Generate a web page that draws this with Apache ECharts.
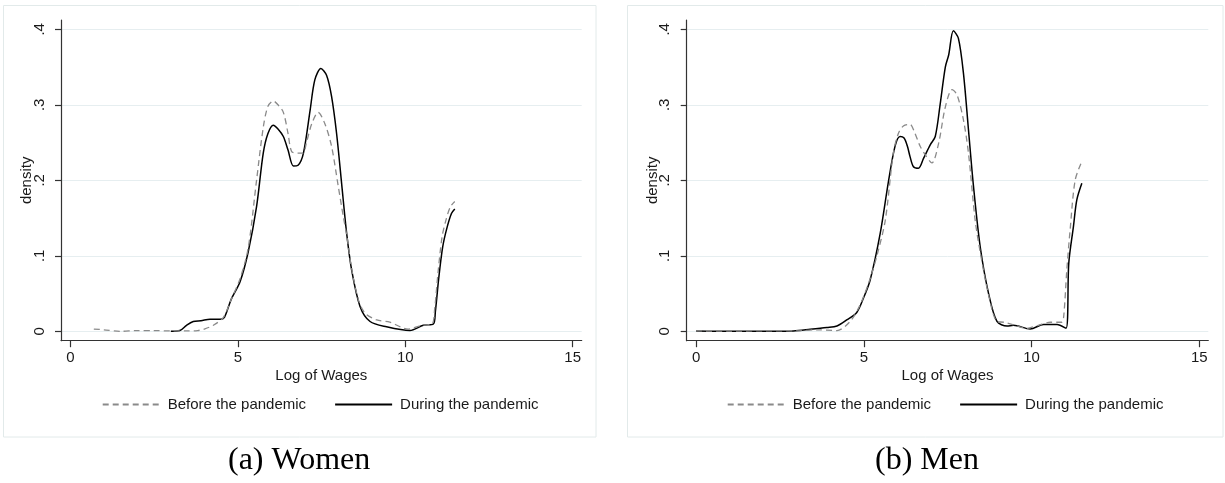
<!DOCTYPE html>
<html>
<head>
<meta charset="utf-8">
<script src="https://cdn.jsdelivr.net/npm/echarts@6/dist/echarts.min.js"></script>
<style>
html, body { margin: 0; padding: 0; background: #fff; }
#chart { width: 1225px; height: 483px; }
</style>
</head>
<body>
<div id="chart"></div>
<script>
// tick labels and names
var xTicks = [0, 5, 10, 15];
var seriesNames = ['Before the pandemic', 'During the pandemic'];
var captions = ['(a) Women', '(b) Men'];

// [log wage, density]
var womenBefore = [[0.7,0.003],[1.0,0.002],[1.5,0.0],[2.0,0.001],[2.5,0.001],[3.0,0.0005],[3.5,0.0005],[3.8,0.001],[4.0,0.003],[4.27,0.008],[4.57,0.0185],[4.8,0.042],[5.07,0.07],[5.31,0.11],[5.56,0.2],[5.76,0.27],[5.9,0.298],[6.06,0.305],[6.2,0.3],[6.36,0.29],[6.5,0.262],[6.61,0.238],[6.8,0.236],[6.95,0.236],[7.05,0.25],[7.21,0.275],[7.4,0.29],[7.6,0.275],[7.8,0.245],[8.0,0.192],[8.15,0.152],[8.25,0.128],[8.4,0.083],[8.6,0.042],[8.8,0.024],[9.15,0.015],[9.54,0.012],[10.09,0.003],[10.5,0.008],[10.8,0.0097],[10.88,0.03],[10.98,0.078],[11.1,0.125],[11.22,0.148],[11.35,0.165],[11.48,0.172]];
var womenDuring = [[3.0,0.0],[3.27,0.001],[3.47,0.008],[3.67,0.013],[3.9,0.014],[4.17,0.016],[4.47,0.016],[4.6,0.0185],[4.8,0.042],[5.07,0.066],[5.31,0.105],[5.56,0.165],[5.76,0.236],[5.9,0.262],[6.06,0.273],[6.2,0.268],[6.36,0.258],[6.5,0.24],[6.66,0.219],[6.8,0.22],[6.96,0.236],[7.16,0.293],[7.3,0.333],[7.48,0.348],[7.65,0.339],[7.8,0.311],[7.95,0.262],[8.1,0.196],[8.25,0.13],[8.4,0.081],[8.65,0.033],[8.95,0.013],[9.44,0.006],[10.14,0.001],[10.54,0.008],[10.84,0.0097],[10.9,0.026],[11.0,0.07],[11.12,0.112],[11.24,0.136],[11.38,0.156],[11.48,0.162]];
var menBefore = [[0,0.0005],[1,0.0003],[2,0.0005],[3,0.0005],[3.6,0.002],[4.2,0.001],[4.59,0.013],[4.89,0.035],[5.19,0.07],[5.39,0.1],[5.64,0.147],[5.88,0.236],[6.03,0.262],[6.18,0.272],[6.38,0.274],[6.5,0.265],[6.68,0.245],[6.83,0.234],[7.03,0.223],[7.23,0.249],[7.43,0.297],[7.63,0.32],[7.78,0.313],[7.97,0.28],[8.12,0.236],[8.32,0.147],[8.47,0.105],[8.72,0.048],[8.97,0.013],[9.17,0.012],[9.5,0.008],[9.86,0.004],[10.2,0.008],[10.56,0.012],[10.9,0.012],[10.96,0.02],[11.05,0.08],[11.15,0.134],[11.3,0.2],[11.5,0.225]];
var menDuring = [[0,0.0005],[1,0.0],[2,0.0],[2.9,0.0005],[3.4,0.0026],[3.9,0.005],[4.2,0.007],[4.49,0.015],[4.79,0.025],[4.99,0.044],[5.19,0.068],[5.49,0.13],[5.74,0.2],[5.93,0.245],[6.08,0.258],[6.2,0.256],[6.3,0.245],[6.38,0.231],[6.48,0.218],[6.63,0.216],[6.78,0.229],[6.98,0.247],[7.13,0.258],[7.28,0.302],[7.43,0.35],[7.53,0.366],[7.67,0.398],[7.82,0.388],[7.97,0.342],[8.12,0.267],[8.27,0.192],[8.47,0.112],[8.72,0.05],[8.97,0.013],[9.27,0.007],[9.46,0.008],[9.96,0.003],[10.36,0.009],[10.76,0.009],[11.03,0.004],[11.11,0.09],[11.25,0.139],[11.35,0.174],[11.5,0.196]];

var chart = echarts.init(document.getElementById('chart'));

var panels = [
  { left: 61, width: 520.7, legendLeft: 101.7, captionLeft: 228, boxX: 3.5, boxW: 592.5, before: womenBefore, during: womenDuring },
  { left: 686.7, width: 521.6, legendLeft: 726.7, captionLeft: 875, boxX: 627.5, boxW: 595.5, before: menBefore, during: menDuring }
];

var axisColor = '#333';
var textColor = '#1a1a1a';
var font = 'Liberation Sans';

var grids = [], xAxes = [], yAxes = [], series = [], legends = [], titles = [], boxes = [];

panels.forEach(function(p, i) {
  // frame grid: only the two axis lines (Stata style, longer than data range)
  grids.push({ left: p.left, top: 20, width: p.width, height: 320.7 });
  // data grid
  grids.push({ left: p.left, top: 29.3, width: p.width, height: 302 });

  xAxes.push({
    gridIndex: 2 * i, type: 'value', min: 0, max: 1,
    axisLine: { show: true, onZero: false, lineStyle: { color: axisColor, width: 1.2 } },
    axisTick: { show: false }, axisLabel: { show: false }, splitLine: { show: false }
  });
  yAxes.push({
    gridIndex: 2 * i, type: 'value', min: 0, max: 1,
    axisLine: { show: true, onZero: false, lineStyle: { color: axisColor, width: 1.2 } },
    axisTick: { show: false }, axisLabel: { show: false }, splitLine: { show: false }
  });

  xAxes.push({
    gridIndex: 2 * i + 1, type: 'value', min: -0.28, max: 15.27, offset: 9.4,
    axisLine: { show: false, onZero: false },
    axisTick: { show: true, length: 6.5, customValues: xTicks, lineStyle: { color: axisColor, width: 1.2 } },
    axisLabel: { customValues: xTicks, fontSize: 15, color: textColor, fontFamily: font, margin: 10 },
    splitLine: { show: false },
    name: 'Log of Wages', nameLocation: 'middle', nameGap: 28, nameMoveOverlap: false,
    nameTextStyle: { fontSize: 15, color: textColor, fontFamily: font }
  });
  yAxes.push({
    gridIndex: 2 * i + 1, type: 'value', min: 0, max: 0.4, interval: 0.1,
    axisLine: { show: false, onZero: false },
    axisTick: { show: true, length: 6, lineStyle: { color: axisColor, width: 1.2 } },
    axisLabel: {
      rotate: 90, fontSize: 15, color: textColor, fontFamily: font, margin: 14,
      formatter: function(v) { return v === 0 ? '0' : v.toFixed(1).replace(/^0/, ''); }
    },
    splitLine: { show: true, lineStyle: { color: '#e6eef0', width: 1 } },
    name: 'density', nameLocation: 'middle', nameGap: 26.5, nameMoveOverlap: false,
    nameTextStyle: { fontSize: 15, color: textColor, fontFamily: font }
  });

  series.push({
    name: seriesNames[0], type: 'line', xAxisIndex: 2 * i + 1, yAxisIndex: 2 * i + 1,
    data: p.before, symbol: 'none', smooth: 0.3, z: 3,
    lineStyle: { color: '#8a8a8a', width: 1.3, type: [6, 4] },
    itemStyle: { color: '#8a8a8a' }
  });
  series.push({
    name: seriesNames[1], type: 'line', xAxisIndex: 2 * i + 1, yAxisIndex: 2 * i + 1,
    data: p.during, symbol: 'none', smooth: 0.3, z: 2,
    lineStyle: { color: '#000', width: 1.5 },
    itemStyle: { color: '#000' }
  });

  legends.push({
    data: seriesNames, left: p.legendLeft, top: 397, padding: 0,
    itemWidth: 57, itemHeight: 10, itemGap: 28,
    itemStyle: { opacity: 0 },
    textStyle: { fontSize: 15, color: textColor, fontFamily: font, padding: [0, 0, 0, 3] }
  });

  titles.push({
    text: captions[i], left: p.captionLeft, top: 445, padding: 0,
    textStyle: { fontFamily: 'Liberation Serif', fontSize: 32, fontWeight: 'normal', color: '#000' }
  });

  boxes.push({
    type: 'rect', silent: true, z: -1,
    shape: { x: p.boxX, y: 5.5, width: p.boxW, height: 431.5 },
    style: { fill: '#fff', stroke: '#e2eaea', lineWidth: 1 }
  });
});

var option = {
  animation: false,
  backgroundColor: '#fff',
  textStyle: { fontFamily: font },
  title: titles,
  legend: legends,
  grid: grids,
  xAxis: xAxes,
  yAxis: yAxes,
  series: series,
  graphic: boxes
};

chart.setOption(option);
</script>
</body>
</html>
